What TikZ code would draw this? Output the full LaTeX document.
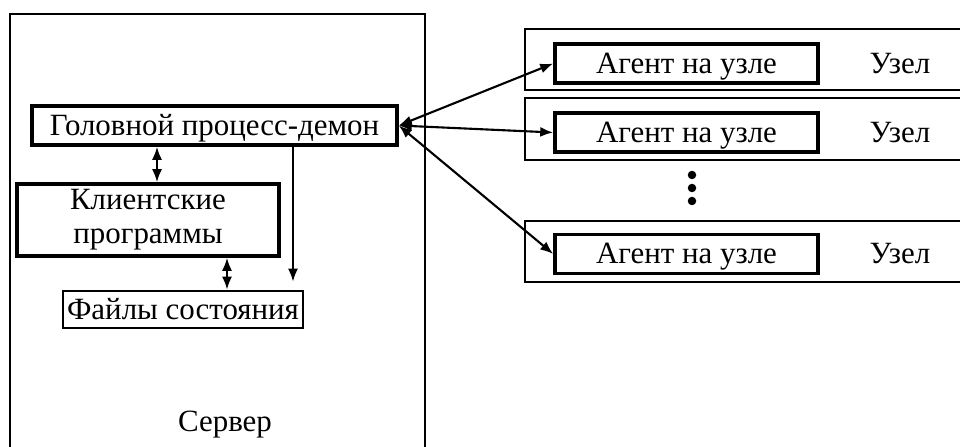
\documentclass[tikz,border=0pt]{standalone}
\usepackage{fontspec}
\setmainfont{Liberation Serif}
\usetikzlibrary{arrows.meta, positioning, calc}

\begin{document}
\begin{tikzpicture}[>={Latex[length=2.6mm,width=2mm]},
  font=\fontsize{17.6}{19.5}\selectfont,
  proc/.style={draw, line width=2pt, inner sep=0pt},
  oneline/.style={text height=0.41cm, text depth=0.02cm},
  frame/.style={draw, line width=0.9pt},
  link/.style={<->, line width=1.2pt},
  dot/.style={circle, fill, inner sep=0pt, minimum size=0.17cm}]

  \useasboundingbox (0,0) rectangle (19.2,8.92);
  \clip (0,0) rectangle (19.2,8.92);

  % Сервер
  \draw[frame] (0.2,-0.5) rectangle (8.5,8.64);
  \node (srv) at (4.5,0.42) {Сервер};

  \node[proc, oneline, minimum width=7.3cm, minimum height=0.78cm] (head) at (4.29,6.41) {Головной процесс-демон};
  \node[proc, minimum width=5.24cm, minimum height=1.44cm, align=center] (client) at (2.96,4.52) {Клиентские\\программы};
  \node[proc, oneline, line width=1.5pt, minimum width=4.8cm, minimum height=0.74cm] (files) at (3.66,2.73) {Файлы состояния};

  \coordinate (hc) at (3.14,0);
  \coordinate (cf) at (4.54,0);
  \coordinate (hf) at (5.86,0);
  \draw[link] (head.south -| hc) -- (client.north -| hc);
  \draw[link] (client.south -| cf) -- (files.north -| cf);
  \draw[->, line width=1.2pt, shorten >=0.16cm] (head.south -| hf) -- (files.north -| hf);

  % Узлы
  \draw[frame] (10.5,7.12) rectangle (19.6,8.34);
  \draw[frame] (10.5,5.72) rectangle (19.6,6.96);
  \draw[frame] (10.5,3.28) rectangle (19.6,4.50);

  \node[proc, oneline, minimum width=5.26cm, minimum height=0.78cm] (ag1) at (13.73,7.65) {Агент на узле};
  \node[proc, oneline, minimum width=5.26cm, minimum height=0.78cm] (ag2) at (13.73,6.27) {Агент на узле};
  \node[proc, oneline, minimum width=5.26cm, minimum height=0.78cm] (ag3) at (13.73,3.84) {Агент на узле};
  \node[oneline] (n1) at (18.0,7.65) {Узел};
  \node[oneline] (n2) at (18.0,6.27) {Узел};
  \node[oneline] (n3) at (18.0,3.84) {Узел};

  \node[dot] (d1) at (13.84,5.42) {};
  \node[dot] (d2) at (13.84,5.16) {};
  \node[dot] (d3) at (13.84,4.90) {};

  \draw[link] (head.east) -- (ag1.west);
  \draw[link] (head.east) -- (ag2.west);
  \draw[link] (head.east) -- (ag3.west);

\end{tikzpicture}
\end{document}
